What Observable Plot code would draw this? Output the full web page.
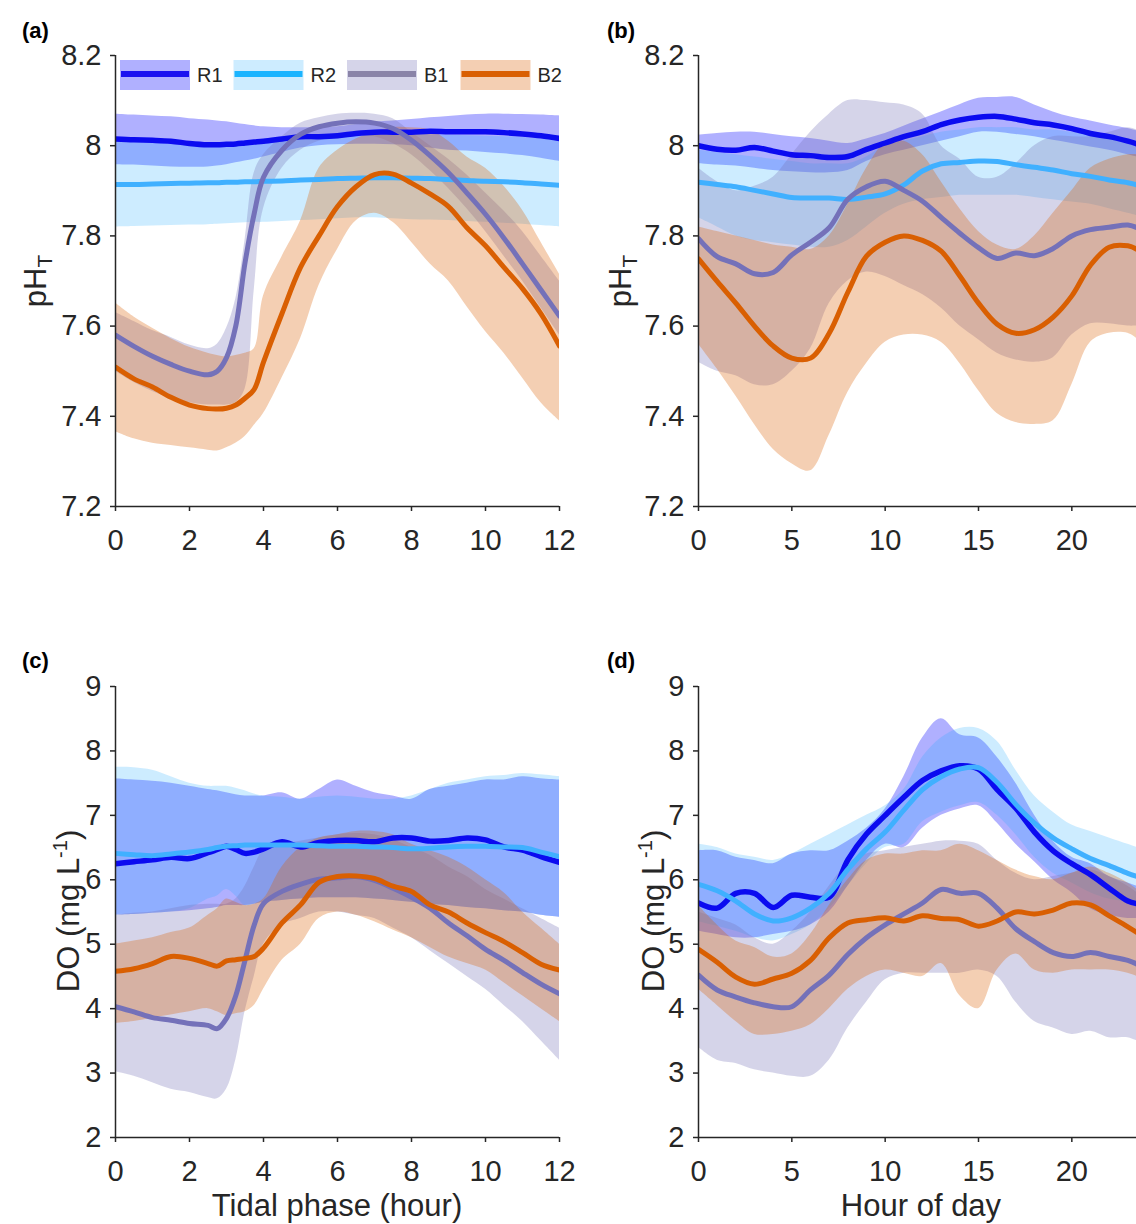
<!DOCTYPE html>
<html>
<head>
<meta charset="utf-8">
<script src="https://cdn.jsdelivr.net/npm/d3@7"></script>
<script src="https://cdn.jsdelivr.net/npm/@observablehq/plot@0.6"></script>
<style>
  html, body { margin: 0; padding: 0; background: #fff; overflow: hidden; }
  #fig { position: relative; width: 1136px; height: 1224px; overflow: hidden; background: #fff;
         font-family: "Liberation Sans", Arial, Helvetica, sans-serif; }
  .panel { position: absolute; }
  #overlay { position: absolute; left: 0; top: 0; pointer-events: none; }
</style>
</head>
<body>
<div id="fig"></div>
<script>
// ---- x positions -------------------------------------------------------
const tidalHour = [0,0.5,1,1.5,2,2.5,2.75,3,3.25,3.5,3.75,4,4.5,5,5.5,6,6.5,7,7.5,8,8.5,9,9.5,10,10.5,11,11.5,12];
const dayHour = [0,1,2,3,4,5,6,7,8,9,10,11,12,13,14,15,16,17,18,19,20,21,22,23,23.5];

const sites = ["R1", "R2", "B1", "B2"];
const tidalTicks = [0, 2, 4, 6, 8, 10, 12];
const dayTicks = [0, 5, 10, 15, 20];
const phTicks = [7.2, 7.4, 7.6, 7.8, 8, 8.2];
const doTicks = [2, 3, 4, 5, 6, 7, 8, 9];

// ---- (a) pH_T over the tidal phase: mean, lower and upper envelope ----------
const phTideR1   = [8.015,8.013,8.012,8.01,8.005,8.002,8.002,8.003,8.004,8.006,8.008,8.01,8.015,8.02,8.02,8.022,8.027,8.03,8.03,8.03,8.032,8.031,8.031,8.031,8.029,8.026,8.022,8.016];
const phTideR1Hi = [8.07,8.068,8.066,8.064,8.06,8.057,8.055,8.053,8.05,8.047,8.044,8.042,8.04,8.04,8.04,8.042,8.047,8.052,8.055,8.058,8.062,8.065,8.068,8.07,8.07,8.069,8.068,8.066];
const phTideR1Lo = [7.958,7.957,7.955,7.953,7.952,7.953,7.955,7.958,7.962,7.966,7.97,7.975,7.985,7.995,8.0,8.002,8.003,8.003,8.002,8.0,7.995,7.99,7.988,7.985,7.982,7.978,7.972,7.965];
const phTideR2   = [7.914,7.914,7.915,7.916,7.917,7.918,7.918,7.919,7.919,7.92,7.92,7.921,7.922,7.924,7.925,7.927,7.928,7.929,7.929,7.928,7.927,7.925,7.923,7.921,7.92,7.918,7.915,7.912];
const phTideR2Hi = [8.012,8.011,8.01,8.008,8.005,8.003,8.002,8.002,8.003,8.005,8.006,8.008,8.012,8.016,8.018,8.02,8.022,8.024,8.024,8.024,8.024,8.023,8.022,8.021,8.02,8.018,8.015,8.012];
const phTideR2Lo = [7.82,7.821,7.822,7.823,7.824,7.825,7.826,7.827,7.828,7.829,7.83,7.83,7.832,7.834,7.836,7.838,7.84,7.84,7.838,7.836,7.835,7.834,7.832,7.83,7.828,7.826,7.823,7.82];
const phTideB1   = [7.58,7.555,7.533,7.515,7.5,7.492,7.5,7.53,7.6,7.74,7.85,7.93,7.99,8.025,8.042,8.05,8.053,8.05,8.038,8.012,7.978,7.94,7.895,7.848,7.795,7.738,7.68,7.622];
const phTideB1Hi = [7.63,7.61,7.59,7.575,7.558,7.55,7.56,7.595,7.66,7.79,7.94,7.98,8.02,8.05,8.062,8.07,8.072,8.07,8.06,8.03,8.0,7.97,7.935,7.895,7.855,7.81,7.755,7.7];
const phTideB1Lo = [7.5,7.475,7.455,7.44,7.43,7.425,7.425,7.425,7.43,7.46,7.68,7.86,7.95,7.99,8.01,8.02,8.025,8.02,8.005,7.98,7.945,7.905,7.86,7.81,7.755,7.7,7.64,7.58];
const phTideB2   = [7.509,7.483,7.465,7.442,7.425,7.417,7.416,7.418,7.425,7.44,7.46,7.52,7.628,7.73,7.8,7.865,7.909,7.936,7.937,7.917,7.893,7.865,7.818,7.778,7.73,7.683,7.627,7.556];
const phTideB2Hi = [7.651,7.62,7.595,7.572,7.553,7.54,7.535,7.532,7.535,7.54,7.55,7.667,7.754,7.833,7.95,7.99,8.015,8.03,8.04,8.04,8.035,8.01,7.975,7.95,7.91,7.857,7.786,7.715];
const phTideB2Lo = [7.366,7.35,7.34,7.335,7.33,7.325,7.323,7.33,7.34,7.355,7.38,7.406,7.485,7.572,7.69,7.77,7.833,7.85,7.83,7.786,7.738,7.7,7.643,7.588,7.54,7.485,7.43,7.39];

// ---- (b) pH_T over the hour of day ---------------------------------------------
const phDayR1   = [8.0,7.992,7.99,7.996,7.988,7.98,7.978,7.974,7.976,7.992,8.006,8.02,8.031,8.047,8.057,8.063,8.065,8.059,8.051,8.046,8.038,8.027,8.02,8.01,8.004];
const phDayR1Hi = [8.023,8.027,8.03,8.03,8.025,8.02,8.016,8.01,8.005,8.015,8.027,8.043,8.059,8.075,8.091,8.105,8.107,8.107,8.09,8.075,8.063,8.055,8.046,8.038,8.033];
const phDayR1Lo = [7.96,7.957,7.955,7.95,7.945,7.942,7.94,7.94,7.945,7.965,7.98,7.99,8.0,8.01,8.02,8.03,8.03,8.025,8.02,8.012,8.005,7.997,7.99,7.98,7.975];
const phDayR2   = [7.919,7.914,7.909,7.901,7.893,7.885,7.884,7.884,7.881,7.886,7.893,7.913,7.944,7.96,7.963,7.966,7.965,7.958,7.952,7.946,7.938,7.932,7.924,7.918,7.913];
const phDayR2Hi = [7.99,7.985,7.98,7.975,7.97,7.965,7.96,7.96,7.96,7.975,8.0,8.01,8.02,8.03,8.035,8.04,8.04,8.04,8.035,8.035,8.03,8.025,8.015,8.005,8.0];
const phDayR2Lo = [7.84,7.82,7.8,7.79,7.785,7.78,7.775,7.775,7.79,7.82,7.85,7.87,7.88,7.885,7.89,7.89,7.89,7.89,7.885,7.88,7.875,7.87,7.86,7.85,7.845];
const phDayB1   = [7.794,7.754,7.738,7.716,7.719,7.758,7.786,7.818,7.881,7.909,7.921,7.901,7.877,7.841,7.806,7.774,7.75,7.762,7.756,7.772,7.8,7.814,7.819,7.824,7.818];
const phDayB1Hi = [7.95,7.92,7.9,7.91,7.93,7.98,8.03,8.07,8.1,8.1,8.095,8.09,8.07,8.0,7.97,7.93,7.93,7.96,8.0,8.02,8.02,8.02,8.03,8.04,8.035];
const phDayB1Lo = [7.52,7.5,7.49,7.47,7.47,7.5,7.55,7.65,7.7,7.72,7.71,7.69,7.67,7.64,7.6,7.57,7.54,7.525,7.52,7.53,7.58,7.605,7.605,7.6,7.6];
const phDayB2   = [7.749,7.699,7.651,7.6,7.556,7.529,7.529,7.584,7.675,7.755,7.786,7.8,7.79,7.766,7.711,7.651,7.604,7.584,7.592,7.62,7.667,7.735,7.775,7.778,7.77];
const phDayB2Hi = [7.82,7.81,7.8,7.79,7.78,7.775,7.77,7.8,7.87,7.95,8.005,8.01,7.98,7.92,7.86,7.81,7.78,7.77,7.8,7.85,7.9,7.95,7.97,7.98,7.98];
const phDayB2Lo = [7.56,7.505,7.445,7.382,7.327,7.295,7.279,7.358,7.453,7.517,7.564,7.58,7.58,7.564,7.517,7.457,7.406,7.386,7.382,7.39,7.47,7.564,7.584,7.584,7.572];

// ---- (c) dissolved oxygen over the tidal phase ---------------------------------
const doTideR1   = [6.25,6.28,6.31,6.35,6.33,6.42,6.47,6.52,6.47,6.41,6.43,6.48,6.59,6.51,6.58,6.61,6.61,6.59,6.65,6.65,6.6,6.61,6.65,6.62,6.51,6.46,6.36,6.27];
const doTideR1Hi = [7.57,7.55,7.53,7.5,7.45,7.4,7.38,7.35,7.32,7.3,7.3,7.3,7.35,7.25,7.4,7.55,7.45,7.35,7.3,7.25,7.4,7.45,7.5,7.55,7.55,7.6,7.57,7.55];
const doTideR1Lo = [5.45,5.46,5.48,5.5,5.52,5.55,5.57,5.6,5.6,5.6,5.62,5.65,5.68,5.7,5.72,5.72,5.72,5.7,5.68,5.65,5.62,5.6,5.57,5.55,5.52,5.5,5.45,5.42];
const doTideR2   = [6.41,6.39,6.375,6.4,6.43,6.47,6.5,6.52,6.53,6.54,6.54,6.54,6.54,6.54,6.53,6.52,6.52,6.51,6.5,6.48,6.49,6.51,6.52,6.52,6.51,6.5,6.43,6.36];
const doTideR2Hi = [7.745,7.74,7.7,7.6,7.5,7.45,7.45,7.45,7.42,7.38,7.33,7.3,7.28,7.25,7.28,7.3,7.28,7.25,7.25,7.3,7.4,7.5,7.55,7.6,7.62,7.65,7.63,7.6];
const doTideR2Lo = [5.45,5.46,5.48,5.5,5.55,5.7,5.75,5.85,5.75,5.6,5.62,5.65,5.68,5.7,5.72,5.72,5.72,5.7,5.68,5.65,5.62,5.6,5.57,5.55,5.52,5.5,5.45,5.42];
const doTideB1   = [4.03,3.95,3.86,3.82,3.77,3.74,3.69,3.85,4.2,4.75,5.3,5.63,5.82,5.93,6.01,6.03,6.05,5.99,5.87,5.73,5.56,5.33,5.13,4.92,4.75,4.56,4.38,4.23];
const doTideB1Hi = [5.45,5.48,5.5,5.55,5.6,5.62,5.62,5.62,5.7,5.9,6.2,6.45,6.55,6.6,6.65,6.7,6.72,6.7,6.62,6.5,6.38,6.2,6.05,5.85,5.7,5.55,5.4,5.25];
const doTideB1Lo = [3.02,2.95,2.85,2.75,2.7,2.62,2.6,2.75,3.2,3.95,4.5,5.0,5.3,5.4,5.5,5.5,5.45,5.4,5.25,5.1,4.9,4.7,4.5,4.3,4.05,3.8,3.5,3.2];
const doTideB2   = [4.58,4.62,4.7,4.81,4.78,4.7,4.66,4.74,4.76,4.78,4.81,4.94,5.33,5.61,5.96,6.05,6.06,6.02,5.9,5.82,5.61,5.5,5.33,5.18,5.04,4.87,4.69,4.6];
const doTideB2Hi = [5.0,5.05,5.1,5.18,5.25,5.45,5.55,5.7,5.65,5.6,5.62,5.7,6.2,6.5,6.65,6.7,6.75,6.75,6.7,6.55,6.45,6.35,6.2,6.0,5.8,5.5,5.25,5.0];
const doTideB2Lo = [3.77,3.8,3.85,3.9,3.95,4.0,3.95,3.89,3.92,3.95,4.05,4.3,4.75,5.0,5.4,5.5,5.45,5.35,5.22,5.1,4.95,4.8,4.7,4.6,4.4,4.2,4.0,3.8];

// ---- (d) dissolved oxygen over the hour of day ---------------------------------
const doDayR1   = [5.64,5.56,5.79,5.79,5.57,5.76,5.73,5.73,6.31,6.71,7.0,7.28,7.54,7.69,7.77,7.72,7.4,7.11,6.74,6.45,6.25,6.08,5.87,5.67,5.63];
const doDayR1Hi = [6.45,6.45,6.35,6.3,6.25,6.4,6.45,6.45,6.6,6.8,7.1,7.6,8.2,8.5,8.25,8.2,7.9,7.5,7.0,6.6,6.35,6.25,6.05,5.95,5.9];
const doDayR1Lo = [5.2,5.15,5.1,5.1,5.15,5.2,5.3,5.5,5.9,6.3,6.55,6.5,6.8,7.0,7.1,7.15,6.88,6.55,6.28,6.0,5.8,5.55,5.45,5.4,5.4];
const doDayR2   = [5.93,5.83,5.67,5.47,5.36,5.41,5.56,5.79,6.16,6.48,6.74,7.08,7.4,7.6,7.72,7.74,7.51,7.17,6.88,6.65,6.48,6.33,6.22,6.1,6.05];
const doDayR2Hi = [6.55,6.5,6.4,6.35,6.3,6.4,6.55,6.7,6.85,7.0,7.15,7.4,7.9,8.2,8.35,8.35,8.15,7.7,7.3,7.05,6.85,6.75,6.65,6.55,6.5];
const doDayR2Lo = [5.35,5.28,5.2,5.1,5.05,5.15,5.3,5.55,5.9,6.25,6.5,6.55,6.9,7.05,7.15,7.2,7.0,6.7,6.35,6.1,5.95,5.8,5.7,5.65,5.6];
const doDayB1   = [4.52,4.29,4.18,4.09,4.03,4.03,4.29,4.52,4.84,5.1,5.3,5.47,5.64,5.85,5.79,5.79,5.56,5.24,5.04,4.87,4.81,4.87,4.81,4.75,4.69];
const doDayB1Hi = [5.5,5.4,5.3,5.1,5.0,5.2,5.5,5.9,6.25,6.4,6.45,6.5,6.55,6.6,6.6,6.55,6.3,6.1,6.0,6.05,6.1,6.15,6.05,5.9,5.8];
const doDayB1Lo = [3.4,3.2,3.15,3.05,3.0,2.95,2.95,3.2,3.7,4.1,4.45,4.55,4.55,4.55,4.55,4.6,4.5,4.1,3.8,3.7,3.6,3.65,3.55,3.55,3.5];
const doDayB2   = [4.92,4.72,4.49,4.38,4.46,4.55,4.75,5.1,5.33,5.38,5.41,5.36,5.44,5.4,5.38,5.28,5.36,5.5,5.47,5.53,5.64,5.61,5.44,5.27,5.18];
const doDayB2Hi = [5.6,5.3,5.05,4.95,4.8,4.85,5.15,5.6,6.0,6.3,6.4,6.4,6.45,6.45,6.55,6.45,6.3,6.15,6.05,6.0,6.1,6.2,6.1,5.95,5.85];
const doDayB2Lo = [4.3,4.05,3.8,3.6,3.6,3.65,3.75,4.0,4.3,4.5,4.6,4.55,4.5,4.7,4.2,4.0,4.6,4.85,4.6,4.55,4.6,4.6,4.6,4.55,4.5];

// ---- styling -------------------------------------------------------------------
const lineColor   = {R1: "#0b0bf0", R2: "#40b0ff", B1: "#7471b9", B2: "#d95f02"};
const legendLine  = {R1: "#1a12f0", R2: "#1ab4ff", B1: "#8a84a8", B2: "#d95f02"};
const lineWidth   = {R1: 5.5, R2: 5, B1: 5, B2: 5};
const bandFill    = {R1: "#0000ff", R2: "#1aa8ff", B1: "#7774b8", B2: "#d95f02"};
const bandOpacity = {R1: 0.31, R2: 0.22, B1: 0.31, B2: 0.3};
const ink = "#262626";
const fontFamily = '"Liberation Sans", Arial, Helvetica, sans-serif';

function toRows(xs, mean, lo, hi) {
  return xs.map((x, i) => ({x, mean: mean[i], lo: lo[i], hi: hi[i]}));
}

function panel({xs, xDomain, xTicks, yDomain, yTicks, series, left, top, marginRight}) {
  const data = sites.map((s, i) => ({site: s, rows: toRows(xs, ...series[i])}));
  const chart = Plot.plot({
    width: 580, height: 560,
    marginLeft: 115, marginRight, marginTop: 55, marginBottom: 54,
    x: {domain: xDomain},
    y: {domain: yDomain},
    style: {fontFamily, fontSize: "29px", color: ink, background: "transparent", overflow: "visible"},
    marks: [
      ...data.map(d => Plot.areaY(d.rows, {x: "x", y1: "lo", y2: "hi", curve: "catmull-rom", fill: bandFill[d.site], fillOpacity: bandOpacity[d.site], clip: true})),
      ...data.map(d => Plot.line(d.rows, {x: "x", y: "mean", curve: "catmull-rom", stroke: lineColor[d.site], strokeWidth: lineWidth[d.site], strokeLinejoin: "round", clip: true})),
      Plot.ruleX([xDomain[0]], {stroke: ink, strokeWidth: 1.5}),
      Plot.ruleY([yDomain[0]], {stroke: ink, strokeWidth: 1.5}),
      Plot.axisX({ticks: xTicks, tickSize: 5, tickPadding: 18, tickFormat: d => String(d), label: null, strokeWidth: 1.5}),
      Plot.axisY({ticks: yTicks, tickSize: 5, tickPadding: 9, tickFormat: d => String(d), label: null, strokeWidth: 1.5})
    ]
  });
  chart.classList.add("panel");
  chart.style.left = left + "px";
  chart.style.top = top + "px";
  document.getElementById("fig").appendChild(chart);
}

panel({xs: tidalHour, xDomain: [0, 12], xTicks: tidalTicks, yDomain: [7.2, 8.2], yTicks: phTicks, left: 0, top: 0, marginRight: 21,
  series: [[phTideR1, phTideR1Lo, phTideR1Hi], [phTideR2, phTideR2Lo, phTideR2Hi], [phTideB1, phTideB1Lo, phTideB1Hi], [phTideB2, phTideB2Lo, phTideB2Hi]]});
panel({xs: dayHour, xDomain: [0, 24], xTicks: dayTicks, yDomain: [7.2, 8.2], yTicks: phTicks, left: 583, top: 0, marginRight: 17,
  series: [[phDayR1, phDayR1Lo, phDayR1Hi], [phDayR2, phDayR2Lo, phDayR2Hi], [phDayB1, phDayB1Lo, phDayB1Hi], [phDayB2, phDayB2Lo, phDayB2Hi]]});
panel({xs: tidalHour, xDomain: [0, 12], xTicks: tidalTicks, yDomain: [2, 9], yTicks: doTicks, left: 0, top: 631, marginRight: 21,
  series: [[doTideR1, doTideR1Lo, doTideR1Hi], [doTideR2, doTideR2Lo, doTideR2Hi], [doTideB1, doTideB1Lo, doTideB1Hi], [doTideB2, doTideB2Lo, doTideB2Hi]]});
panel({xs: dayHour, xDomain: [0, 24], xTicks: dayTicks, yDomain: [2, 9], yTicks: doTicks, left: 583, top: 631, marginRight: 17,
  series: [[doDayR1, doDayR1Lo, doDayR1Hi], [doDayR2, doDayR2Lo, doDayR2Hi], [doDayB1, doDayB1Lo, doDayB1Hi], [doDayB2, doDayB2Lo, doDayB2Hi]]});

// ---- panel letters, axis titles and legend ----------------------------------------
const svg = d3.select("#fig").append("svg")
  .attr("id", "overlay").attr("width", 1136).attr("height", 1224)
  .style("font-family", fontFamily);

const letters = [["(a)", 22, 38], ["(b)", 607, 38], ["(c)", 22, 668], ["(d)", 607, 668]];
for (const [t, x, y] of letters) {
  svg.append("text").attr("x", x).attr("y", y).attr("font-size", 22).attr("font-weight", "bold").attr("fill", "#000").text(t);
}

function phTitle(x, y) {
  const t = svg.append("text").attr("transform", `translate(${x},${y}) rotate(-90)`)
    .attr("text-anchor", "middle").attr("font-size", 31).attr("fill", ink);
  t.append("tspan").text("pH");
  t.append("tspan").attr("font-size", 21).attr("dy", 6).text("T");
}
phTitle(46, 281);
phTitle(631, 281);

function doTitle(x, y) {
  const t = svg.append("text").attr("transform", `translate(${x},${y}) rotate(-90)`)
    .attr("text-anchor", "middle").attr("font-size", 31).attr("fill", ink);
  t.append("tspan").text("DO (mg L");
  t.append("tspan").attr("font-size", 20).attr("dy", -12).text("-1");
  t.append("tspan").attr("dy", 12).text(")");
}
doTitle(79, 911);
doTitle(664, 911);

svg.append("text").attr("x", 337).attr("y", 1216).attr("text-anchor", "middle").attr("font-size", 31).attr("fill", ink).text("Tidal phase (hour)");
svg.append("text").attr("x", 921).attr("y", 1216).attr("text-anchor", "middle").attr("font-size", 31).attr("fill", ink).text("Hour of day");

sites.forEach((s, i) => {
  const x0 = 120 + i * 113.5;
  const g = svg.append("g").attr("transform", `translate(${x0},60)`);
  g.append("rect").attr("width", 70).attr("height", 30).attr("fill", bandFill[s]).attr("fill-opacity", bandOpacity[s]);
  g.append("line").attr("x1", 1).attr("x2", 69).attr("y1", 14).attr("y2", 14).attr("stroke", legendLine[s]).attr("stroke-width", 6);
  g.append("text").attr("x", 77).attr("y", 22).attr("font-size", 20).attr("fill", ink).text(s);
});
</script>
</body>
</html>
